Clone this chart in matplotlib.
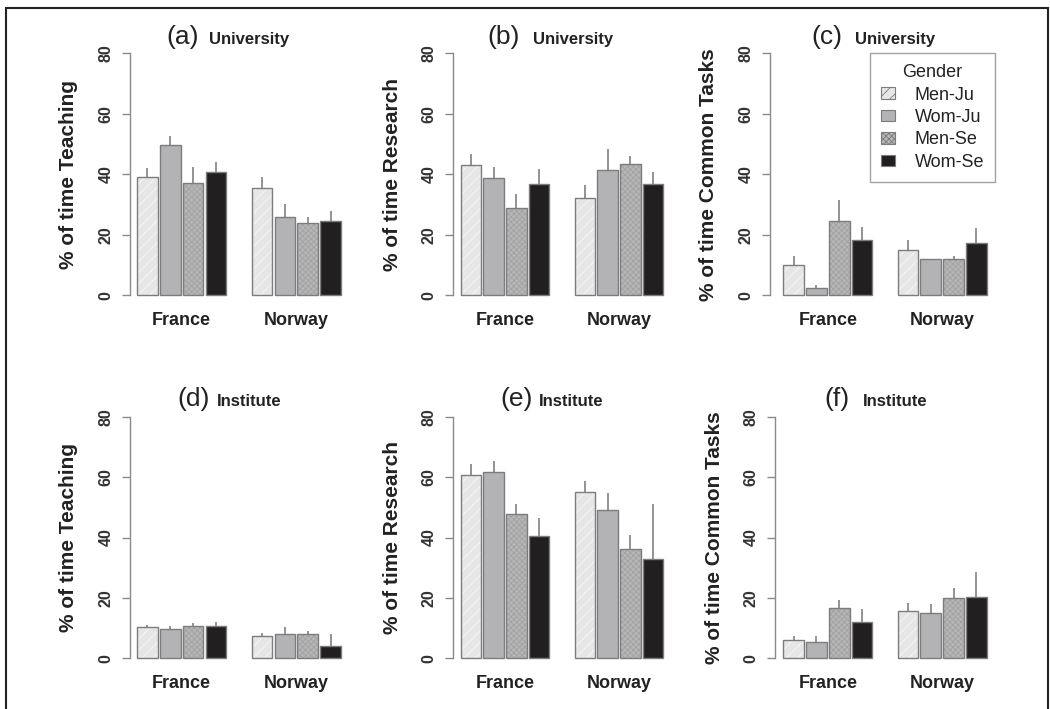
import matplotlib
matplotlib.use("Agg")
import matplotlib.pyplot as plt
from matplotlib.patches import Rectangle, Patch
import numpy as np

plt.rcParams['font.family'] = ['Liberation Sans', 'DejaVu Sans']
plt.rcParams['hatch.linewidth'] = 0.6

# ---------------- data ----------------
groups = ["Men-Ju", "Wom-Ju", "Men-Se", "Wom-Se"]
countries = ["France", "Norway"]

univ_teach_fr = [39.2, 49.6, 37.0, 40.7]
univ_teach_fr_err = [3.0, 3.2, 5.4, 3.4]
univ_teach_no = [35.4, 25.9, 24.0, 24.5]
univ_teach_no_err = [3.7, 4.4, 1.8, 3.5]

univ_research_fr = [43.2, 38.7, 29.0, 36.9]
univ_research_fr_err = [3.5, 3.7, 4.5, 4.8]
univ_research_no = [32.3, 41.3, 43.5, 36.9]
univ_research_no_err = [4.1, 7.2, 2.7, 3.8]

univ_common_fr = [10.0, 2.4, 24.6, 18.2]
univ_common_fr_err = [3.0, 1.0, 6.8, 4.4]
univ_common_no = [15.0, 12.0, 12.0, 17.4]
univ_common_no_err = [3.3, 0.0, 0.9, 4.9]

inst_teach_fr = [10.3, 9.7, 10.8, 10.8]
inst_teach_fr_err = [0.6, 1.0, 0.9, 1.1]
inst_teach_no = [7.3, 8.1, 7.9, 4.0]
inst_teach_no_err = [1.2, 2.2, 1.1, 4.1]

inst_research_fr = [60.8, 61.6, 47.8, 40.5]
inst_research_fr_err = [3.4, 3.8, 3.3, 6.1]
inst_research_no = [55.2, 49.0, 36.1, 32.9]
inst_research_no_err = [3.5, 5.6, 4.6, 18.1]

inst_common_fr = [6.0, 5.3, 16.8, 12.1]
inst_common_fr_err = [1.5, 2.1, 2.6, 4.2]
inst_common_no = [15.6, 14.9, 19.9, 20.3]
inst_common_no_err = [2.7, 3.0, 3.5, 8.4]

yticks = [0, 20, 40, 60, 80]

panels = [
    ("(a)", "University", "% of time Teaching",
     univ_teach_fr, univ_teach_fr_err, univ_teach_no, univ_teach_no_err),
    ("(b)", "University", "% of time Research",
     univ_research_fr, univ_research_fr_err, univ_research_no, univ_research_no_err),
    ("(c)", "University", "% of time Common Tasks",
     univ_common_fr, univ_common_fr_err, univ_common_no, univ_common_no_err),
    ("(d)", "Institute", "% of time Teaching",
     inst_teach_fr, inst_teach_fr_err, inst_teach_no, inst_teach_no_err),
    ("(e)", "Institute", "% of time Research",
     inst_research_fr, inst_research_fr_err, inst_research_no, inst_research_no_err),
    ("(f)", "Institute", "% of time Common Tasks",
     inst_common_fr, inst_common_fr_err, inst_common_no, inst_common_no_err),
]

# ---------------- style / layout ----------------
W, H = 1050, 709
fig = plt.figure(figsize=(W / 100, H / 100), dpi=100)

face = ["#e6e6e6", "#b3b3b6", "#b6b6b6", "#221f20"]
hatch = ["///", None, "xxxxxx", None]
hatch_col = ["#f7f7f7", None, "#a2a2a2", None]
edge = "#7c7c7c"
axis_col = "#8a8a8a"
text_col = "#222222"

# per panel pixel layout: axis x, first bar left, last bar right, y of 0, y of 80
layout = [
    (130, 137.0, 341.0, 295.3, 53.3),
    (453, 460.7, 663.3, 295.3, 53.3),
    (770, 783.3, 986.7, 295.3, 53.3),
    (130, 137.0, 341.0, 658.3, 416.7),
    (453, 460.7, 663.3, 658.3, 416.7),
    (775, 783.3, 986.7, 658.3, 416.7),
]
# title anchors (px): right edge of "(x)", left edge of subtitle, baseline
title_pos = [
    (199, 209, 44), (520, 533, 44), (842, 855, 44),
    (210, 217, 406), (533, 539, 406), (850, 863, 406),
]

bw = 0.9
centers_fr = np.arange(4) + 1.5
centers_no = np.arange(4) + 6.5


def fx(x):
    return x / W


def fy(y):
    return 1 - y / H


axes = []
for k, (tag, sub, ylab, fr, fre, no, noe) in enumerate(panels):
    ax_px, first, last, y0, y80 = layout[k]
    sc = (last - first) / (9.95 - 1.05)
    xmin = 1.05 - (first - ax_px) / sc
    right_px = last + 10
    xmax = 9.95 + 10 / sc
    ysc = (y0 - y80) / 80.0
    pad = 10
    ymin = -pad / ysc
    ymax = 80 + pad / ysc
    ax = fig.add_axes([fx(ax_px), fy(y0 + pad), fx(right_px - ax_px), (y0 - y80 + 2 * pad) / H])
    ax.set_xlim(xmin, xmax)
    ax.set_ylim(ymin, ymax)
    axes.append(ax)

    for centers, vals, errs in ((centers_fr, fr, fre), (centers_no, no, noe)):
        for i in range(4):
            if hatch[i]:
                ax.bar(centers[i], vals[i], width=bw, color=face[i], edgecolor=hatch_col[i],
                       hatch=hatch[i], linewidth=0, zorder=2)
            else:
                ax.bar(centers[i], vals[i], width=bw, color=face[i], linewidth=0, zorder=2)
            ax.bar(centers[i], vals[i], width=bw, fill=False, edgecolor=edge, linewidth=1.0, zorder=3)
            ax.plot([centers[i], centers[i]], [vals[i], vals[i] + errs[i]],
                    color=axis_col, lw=1.3, zorder=1, solid_capstyle='butt')

    for s in ("top", "right", "bottom"):
        ax.spines[s].set_visible(False)
    ax.spines["left"].set_bounds(0, 80)
    ax.spines["left"].set_color(axis_col)
    ax.spines["left"].set_linewidth(1.0)
    ax.set_yticks(yticks)
    ax.set_yticklabels([str(t) for t in yticks], rotation=90, va="center",
                       fontsize=11.5, fontweight="bold", color="#333333")
    ax.tick_params(axis="y", length=6, width=1.0, color=axis_col, pad=6)
    ax.set_xticks([3.0, 8.0])
    ax.set_xticklabels(countries, fontsize=13, fontweight="bold", color=text_col)
    ax.tick_params(axis="x", length=0, pad=5)
    ax.patch.set_visible(False)

    # y label
    fig.text(fx(ax_px - 61), fy((y0 + y80) / 2), ylab, rotation=90, ha="center", va="center",
             fontsize=15, fontweight="bold", color=text_col)
    # title
    tx1, tx2, tb = title_pos[k]
    fig.text(fx(tx1), fy(tb), tag, ha="right", va="baseline", fontsize=19, color=text_col)
    fig.text(fx(tx2), fy(tb), sub, ha="left", va="baseline", fontsize=12, fontweight="bold",
             color=text_col)

# legend in panel (c)
handles = []
for i in range(4):
    if hatch[i]:
        handles.append(Patch(facecolor=face[i], edgecolor=edge, hatch=hatch[i], linewidth=0.8))
    else:
        handles.append(Patch(facecolor=face[i], edgecolor=edge, linewidth=0.8))
leg = fig.legend(handles, groups, title="Gender", loc="upper right",
                 bbox_to_anchor=(fx(995.3), fy(53.3)), bbox_transform=fig.transFigure,
                 fontsize=13, title_fontsize=13, frameon=True, fancybox=False,
                 edgecolor="#8a8a8a", handlelength=0.8, handleheight=0.6,
                 handletextpad=1.1, labelspacing=0.3, borderpad=0.6, borderaxespad=0)
leg.get_frame().set_linewidth(1.0)
for t in leg.get_texts():
    t.set_color(text_col)
leg.get_title().set_color(text_col)

# outer frame
fig.patches.append(Rectangle((fx(6), -0.05), fx(1048 - 6), fy(8) + 0.05,
                             transform=fig.transFigure, fill=False,
                             edgecolor="#222222", linewidth=1.5))

fig.savefig("out.png", dpi=100)
